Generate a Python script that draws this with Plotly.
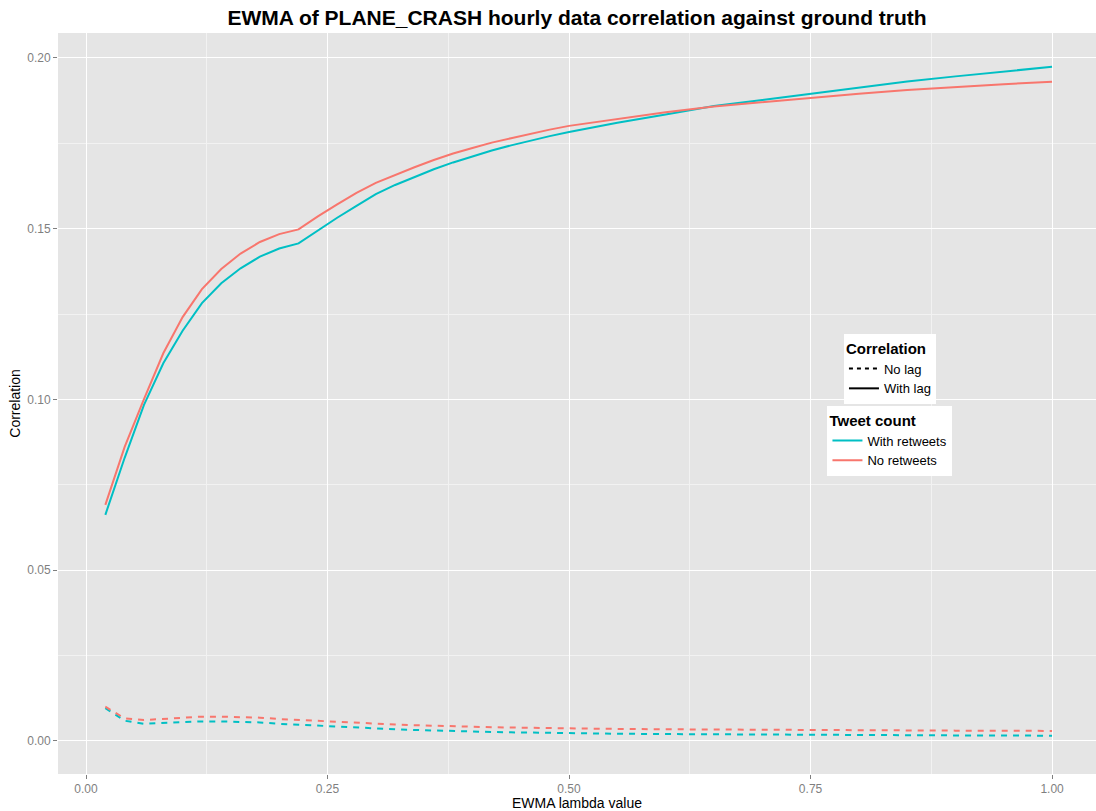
import plotly.graph_objects as go

# EWMA lambda values
lam = [0.02, 0.04, 0.06, 0.08, 0.10, 0.12, 0.14, 0.16, 0.18, 0.20, 0.22,
       0.24, 0.26, 0.28, 0.30, 0.32, 0.34, 0.36, 0.38, 0.40, 0.42, 0.44, 0.46, 0.48, 0.50,
       0.55, 0.60, 0.65, 0.70, 0.75, 0.80, 0.85, 0.90, 0.95, 1.00]

# With lag (solid)
lag_with_rt = [0.0662, 0.0829, 0.0984, 0.1106, 0.1201, 0.1282, 0.1340, 0.1384, 0.1418, 0.1442, 0.1457,
               0.1495, 0.1532, 0.1567, 0.1601, 0.1628, 0.1652, 0.1674, 0.1694, 0.1712, 0.1729, 0.1744,
               0.1758, 0.1771, 0.1783,
               0.1810, 0.1834, 0.1859, 0.1877, 0.1895, 0.1914, 0.1931, 0.1946, 0.1960, 0.1974]
lag_no_rt = [0.0691, 0.0861, 0.1001, 0.1135, 0.1241, 0.1323, 0.1382, 0.1427, 0.1461, 0.1484, 0.1498,
             0.1536, 0.1571, 0.1605, 0.1634, 0.1658, 0.1680, 0.1701, 0.1720, 0.1736, 0.1752, 0.1765,
             0.1778, 0.1790, 0.1801,
             0.1822, 0.1841, 0.1858, 0.1871, 0.1884, 0.1895, 0.1906, 0.1915, 0.1923, 0.1930]

# No lag (dashed)
nolag_with_rt = [0.0096, 0.0059, 0.0050, 0.0053, 0.0055, 0.0057, 0.0057, 0.0056, 0.0054, 0.0050, 0.0047,
                 0.0044, 0.0041, 0.0038, 0.0036, 0.0034, 0.0032, 0.0030, 0.0029, 0.0027, 0.0026, 0.0025,
                 0.0024, 0.0023, 0.0022,
                 0.0021, 0.0020, 0.0019, 0.0019, 0.0018, 0.0017, 0.0017, 0.0016, 0.0016, 0.0015]
nolag_no_rt = [0.0100, 0.0066, 0.0061, 0.0065, 0.0068, 0.0071, 0.0071, 0.0070, 0.0068, 0.0064, 0.0061,
               0.0058, 0.0055, 0.0052, 0.0050, 0.0048, 0.0046, 0.0044, 0.0043, 0.0041, 0.0040, 0.0039,
               0.0038, 0.0037, 0.0036,
               0.0035, 0.0034, 0.0033, 0.0033, 0.0032, 0.0031, 0.0031, 0.0030, 0.0030, 0.0029]

x_ticks = [0.0, 0.25, 0.5, 0.75, 1.0]
x_tick_labels = ["0.00", "0.25", "0.50", "0.75", "1.00"]
y_ticks = [0.0, 0.05, 0.10, 0.15, 0.20]
y_tick_labels = ["0.00", "0.05", "0.10", "0.15", "0.20"]

CYAN = "#00BFC4"
RED = "#F8766D"
FONT = "Liberation Sans, Arial, sans-serif"
DASH = "6px,6px"

fig = go.Figure()

# data lines
fig.add_trace(go.Scatter(x=lam, y=nolag_with_rt, mode="lines", line=dict(color=CYAN, width=2, dash=DASH),
                         showlegend=False, hoverinfo="x+y"))
fig.add_trace(go.Scatter(x=lam, y=nolag_no_rt, mode="lines", line=dict(color=RED, width=2, dash=DASH),
                         showlegend=False, hoverinfo="x+y"))
fig.add_trace(go.Scatter(x=lam, y=lag_with_rt, mode="lines", line=dict(color=CYAN, width=2),
                         showlegend=False, hoverinfo="x+y"))
fig.add_trace(go.Scatter(x=lam, y=lag_no_rt, mode="lines", line=dict(color=RED, width=2),
                         showlegend=False, hoverinfo="x+y"))

# legend: Correlation
fig.add_trace(go.Scatter(x=[None], y=[None], mode="lines", name="No lag",
                         line=dict(color="black", width=2, dash="4px,4px"), legend="legend"))
fig.add_trace(go.Scatter(x=[None], y=[None], mode="lines", name="With lag",
                         line=dict(color="black", width=2), legend="legend"))
# legend: Tweet count
fig.add_trace(go.Scatter(x=[None], y=[None], mode="lines", name="With retweets",
                         line=dict(color=CYAN, width=2), legend="legend2"))
fig.add_trace(go.Scatter(x=[None], y=[None], mode="lines", name="No retweets",
                         line=dict(color=RED, width=2), legend="legend2"))

legend_common = dict(
    bgcolor="white", borderwidth=0, xanchor="center", yanchor="top",
    font=dict(family=FONT, size=13, color="black"),
    itemwidth=30, tracegroupgap=0, traceorder="normal",
)

fig.update_layout(
    width=1096, height=811,
    margin=dict(l=58, r=0, t=33, b=37, autoexpand=False),
    paper_bgcolor="white",
    plot_bgcolor="#E5E5E5",
    font=dict(family=FONT, color="black"),
    title=dict(text="<b>EWMA of PLANE_CRASH hourly data correlation against ground truth</b>",
               x=0.5, xref="paper", xanchor="center",
               y=1 - 18 / 811, yref="container", yanchor="middle",
               font=dict(family=FONT, size=21, color="black")),
    legend=dict(x=0.8015, y=(774 - 334) / 741,
                title=dict(text="<b>Correlation</b>", font=dict(family=FONT, size=15, color="black")),
                **legend_common),
    legend2=dict(x=0.8015, y=(774 - 406) / 741,
                 title=dict(text="<b>Tweet count</b>", font=dict(family=FONT, size=15, color="black")),
                 **legend_common),
    xaxis=dict(
        range=[-0.029, 1.0455], tickvals=x_ticks, ticktext=x_tick_labels,
        showgrid=True, gridcolor="white", gridwidth=1.2,
        minor=dict(tickvals=[0.125, 0.375, 0.625, 0.875], showgrid=True, gridcolor="#F2F2F2", gridwidth=0.6,
                   ticks=""),
        zeroline=False, showline=False,
        ticks="outside", ticklen=4, tickcolor="#7F7F7F", tickwidth=1,
        tickfont=dict(family=FONT, size=12, color="#7F7F7F"),
        title=dict(text="EWMA lambda value", font=dict(family=FONT, size=14, color="black"), standoff=1),
        automargin=False,
    ),
    yaxis=dict(
        range=[-0.0097, 0.2073], tickvals=y_ticks, ticktext=y_tick_labels,
        showgrid=True, gridcolor="white", gridwidth=1.2,
        minor=dict(tickvals=[0.025, 0.075, 0.125, 0.175], showgrid=True, gridcolor="#F2F2F2", gridwidth=0.6,
                   ticks=""),
        zeroline=False, showline=False,
        ticks="outside", ticklen=4, tickcolor="#7F7F7F", tickwidth=1,
        tickfont=dict(family=FONT, size=12, color="#7F7F7F"),
        title=dict(text="Correlation", font=dict(family=FONT, size=14, color="black"), standoff=3),
        automargin=False,
    ),
)

fig.write_html("out.html")
